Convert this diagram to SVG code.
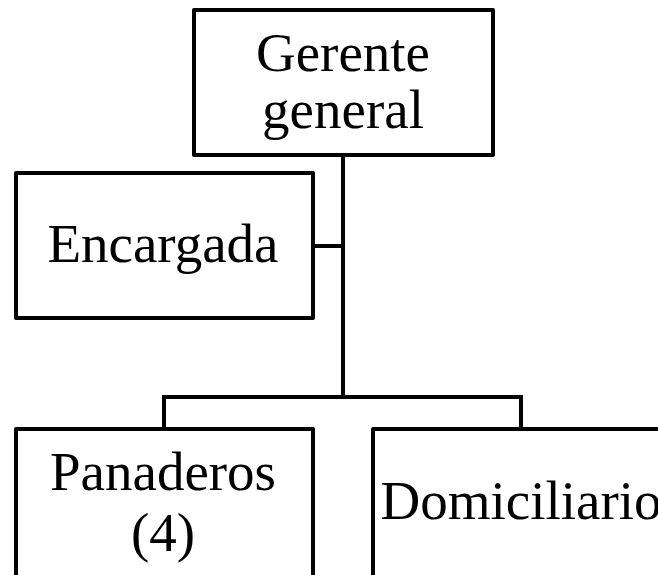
<svg xmlns="http://www.w3.org/2000/svg" width="658" height="575" viewBox="0 0 658 575">
<style>
.box{fill:#fff;stroke:#000;stroke-width:4;stroke-linejoin:round}
.ln{fill:none;stroke:#000;stroke-width:4}
text{font-family:"Liberation Serif","Times New Roman",serif;font-size:55px;fill:#000;text-anchor:middle}
</style>
<rect width="658" height="575" fill="#fff"/>
<g id="connectors">
<path class="ln" d="M343 155 V397"/>
<path class="ln" d="M313 246 H343"/>
<path class="ln" d="M164 429 V397 H521 V429"/>
</g>
<g id="gerente">
<rect class="box" x="194" y="10" width="299" height="145"/>
<text x="343" y="71">Gerente</text>
<text x="343" y="128">general</text>
</g>
<g id="encargada">
<rect class="box" x="16" y="173" width="297" height="145"/>
<text x="163" y="262">Encargada</text>
</g>
<g id="panaderos">
<rect class="box" x="16" y="429" width="297" height="160"/>
<text x="163" y="490">Panaderos</text>
<text x="163" y="551">(4)</text>
</g>
<g id="domiciliario">
<rect class="box" x="373" y="429" width="297" height="160"/>
<text x="521" y="519">Domiciliario</text>
</g>
</svg>
